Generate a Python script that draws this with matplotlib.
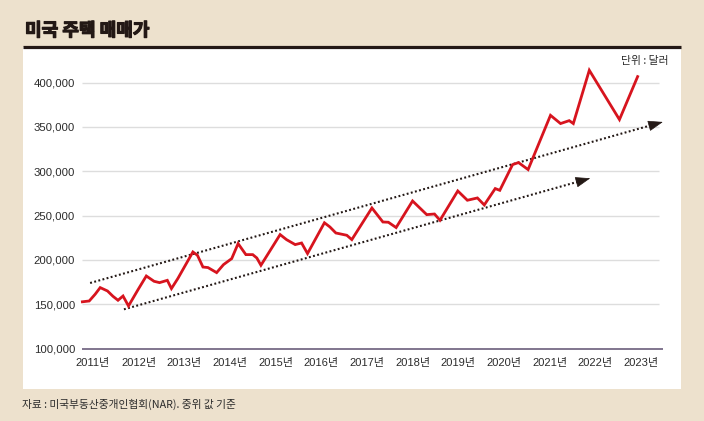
import matplotlib
matplotlib.use("Agg")
import matplotlib.pyplot as plt
from matplotlib.patches import Rectangle
from matplotlib.lines import Line2D
import matplotlib.patheffects as pe
import numpy as np

# ---------------- data ----------------
title = "미국 주택 매매가"
unit_text = "단위 : 달러"
source_text = "자료 : 미국부동산중개인협회(NAR). 중위 값 기준"

price_x = [2011.00, 2011.18, 2011.31, 2011.42, 2011.58, 2011.70, 2011.81, 2011.92,
           2012.04, 2012.25, 2012.43, 2012.60, 2012.72, 2012.89, 2012.98,
           2013.12, 2013.45, 2013.55, 2013.67, 2013.78, 2013.97,
           2014.12, 2014.30, 2014.44, 2014.61, 2014.76, 2014.85, 2014.94,
           2015.36, 2015.50, 2015.69, 2015.83, 2015.96,
           2016.33, 2016.45, 2016.58, 2016.82, 2016.93,
           2017.37, 2017.61, 2017.73, 2017.90,
           2018.26, 2018.57, 2018.74, 2018.86,
           2019.25, 2019.46, 2019.68, 2019.83,
           2020.07, 2020.17, 2020.45, 2020.58, 2020.79,
           2021.28, 2021.50, 2021.69, 2021.78,
           2022.13, 2022.79, 2023.20]
price_y = [152600, 153700, 161300, 168800, 165000, 159000, 154500, 159300,
           148100, 166600, 181900, 175900, 174400, 177000, 167700,
           179000, 209000, 205200, 192000, 191400, 185700,
           194700, 201500, 218400, 206000, 206000, 202200, 194000,
           228600, 222900, 217300, 219100, 207200,
           241900, 237200, 230400, 227800, 222900,
           258600, 242800, 242500, 236500,
           266500, 251100, 251800, 244700,
           277800, 267300, 269900, 262000,
           280500, 278500, 307500, 309800, 301900,
           363100, 353800, 357100, 353800,
           413900, 358300, 408200]

trend_upper_x = [2011.20, 2023.74]
trend_upper_y = [174000, 355600]
trend_lower_x = [2011.94, 2022.15]
trend_lower_y = [144300, 292100]

year_labels = [f"{y}년" for y in range(2011, 2024)]
year_pos = [y + 0.26 for y in range(2011, 2024)]
ytick_vals = [100000, 150000, 200000, 250000, 300000, 350000, 400000]
ytick_labels = ["100,000", "150,000", "200,000", "250,000", "300,000", "350,000", "400,000"]

# ---------------- style ----------------
W, H = 704, 421
BG = "#EDE1CD"
DARK = "#231815"
TXT = "#2b2b2b"
RED = "#D7141E"
GRID = "#DDDDDD"
AXIS = "#5E5070"
CJK = ["Noto Sans CJK KR", "DejaVu Sans"]
LAT = ["Liberation Sans", "Noto Sans CJK KR", "DejaVu Sans"]
plt.rcParams["font.family"] = LAT

fig = plt.figure(figsize=(W / 100, H / 100), dpi=100, facecolor=BG)

def fx(px):
    return px / W

def fy(py):
    return 1 - py / H

# white panel and title rule
fig.patches.append(Rectangle((fx(23.3), fy(389)), fx(681) - fx(23.3), fy(47) - fy(389),
                             transform=fig.transFigure, facecolor="white", edgecolor="none", zorder=-5))
fig.lines.append(Line2D([fx(23), fx(681)], [fy(46.5), fy(46.5)], transform=fig.transFigure,
                        color=DARK, lw=2.3, solid_capstyle="butt", zorder=-4))

fig.text(fx(25), fy(30.5), title, family=CJK, fontsize=13, fontweight="black",
         color=DARK, ha="left", va="center",
         path_effects=[pe.withStroke(linewidth=0.9, foreground=DARK)])
fig.text(fx(669), fy(61.5), unit_text, family=CJK, fontsize=7.8, color=TXT,
         ha="right", va="center")
fig.text(fx(22), fy(404.5), source_text, family=CJK, fontsize=7.7, color=TXT,
         ha="left", va="center")

# axes geometry
xlim = (2010.97, 2023.82)
ylim = (100000, 425000)
px_per_year = 45.67
px_per_val = 1 / 1127.8
left_px = 81 + (xlim[0] - 2011) * px_per_year
right_px = 81 + (xlim[1] - 2011) * px_per_year
bottom_px = 348.6
top_px = bottom_px - (ylim[1] - ylim[0]) * px_per_val

ax = fig.add_axes([fx(left_px), fy(bottom_px), fx(right_px) - fx(left_px), fy(top_px) - fy(bottom_px)])
ax.set_zorder(2)
ax.set_facecolor("none")
ax.patch.set_alpha(0)
ax.set_xlim(*xlim)
ax.set_ylim(*ylim)
for s in ax.spines.values():
    s.set_visible(False)

# gridlines
for v in ytick_vals[1:]:
    ax.plot([2011.015, 2023.656], [v, v], color=GRID, lw=1.0, zorder=1, solid_capstyle="butt")
ax.plot([2011.015, 2023.737], [100000, 100000], color=AXIS, lw=1.1, zorder=2,
        solid_capstyle="butt", clip_on=False)

ax.set_yticks(ytick_vals)
ax.set_yticklabels(ytick_labels)
ax.set_xticks(year_pos)
ax.set_xticklabels(year_labels)
ax.tick_params(axis="y", length=0, pad=3.3, labelsize=8.2, labelcolor=TXT)
ax.tick_params(axis="x", length=0, pad=7.0, labelsize=8.0, labelcolor=TXT)

# price line
ax.plot(price_x, price_y, color=RED, lw=2.0, zorder=4, solid_joinstyle="miter",
        solid_capstyle="butt")

# trend arrows
fig.canvas.draw()

def draw_trend(xs, ys):
    p0 = ax.transData.transform((xs[0], ys[0]))
    p1 = ax.transData.transform((xs[1], ys[1]))
    d = p1 - p0
    u = d / np.hypot(*d)
    base = ax.transData.inverted().transform(p1 - u * 13.0)
    ax.plot([xs[0], base[0]], [ys[0], base[1]], color=DARK, lw=1.5,
            linestyle=(0, (0.9, 1.15)), dash_capstyle="butt", zorder=3, clip_on=False)
    ax.annotate("", xy=(xs[1], ys[1]), xytext=(base[0], base[1]),
                arrowprops=dict(arrowstyle="-|>,head_length=0.95,head_width=0.34",
                                mutation_scale=10, color=DARK, lw=0.5,
                                shrinkA=0, shrinkB=0),
                zorder=3, annotation_clip=False)

draw_trend(trend_upper_x, trend_upper_y)
draw_trend(trend_lower_x, trend_lower_y)

fig.savefig("out.png", dpi=100, facecolor=BG)
